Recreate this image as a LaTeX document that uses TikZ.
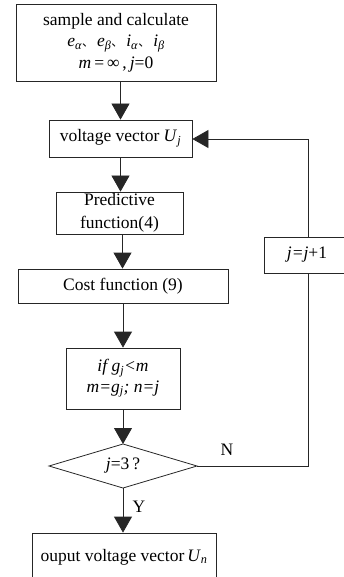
\documentclass[tikz,border=0pt]{standalone}
\usepackage{fontspec}
\setmainfont{Liberation Serif}
\newfontfamily\cjk{Noto Sans CJK SC}
\usetikzlibrary{arrows.meta}
\begin{document}
\begin{tikzpicture}[x=1pt,y=-1pt, font=\fontsize{17.5}{21.5}\selectfont,
 box/.style={draw=black!85, line width=0.8pt, inner sep=0pt, align=center},
 arr/.style={draw=black!85, line width=0.8pt, -{Triangle[length=16pt,width=18pt]}},
 ln/.style={draw=black!85, line width=0.8pt},
 lbl/.style={inner sep=0pt}]
\useasboundingbox (0,0) rectangle (344,577);
\clip (0,0) rectangle (344,577);
\node[box, minimum width=200, minimum height=77] (s) at (116,42.5)
  {sample and calculate\\
   \textit{e}\textsubscript{\textit{α}}{\cjk\fontsize{12}{12}\selectfont 、}\,\textit{e}\textsubscript{\textit{β}}{\cjk\fontsize{12}{12}\selectfont 、}\,\textit{i}\textsubscript{\textit{α}}{\cjk\fontsize{12}{12}\selectfont 、}\,\textit{i}\textsubscript{\textit{β}}\\
   \textit{m}\,=\,∞\,,\,\textit{j}=0};
\node[box, minimum width=143, minimum height=37] (v) at (120.5,138.5)
  {voltage vector \textit{U}\textsubscript{\textit{j}}};
\node[box, minimum width=127, minimum height=42] (p) at (119.5,213)
  {Predictive\\[2pt] function(4)};
\node[box, minimum width=210, minimum height=34] (c) at (123,286)
  {Cost function (9)};
\node[box, minimum width=114, minimum height=61] (f) at (123,378.5)
  {\textit{if g}\textsubscript{\textit{j}}\textit{<m}\\[-1pt]
   \textit{m=g}\textsubscript{\textit{j}}\textit{; n=j}};
\node[lbl] (d) at (123,466) {\textit{j}=3\,?};
\coordinate (dl) at (49,466);
\coordinate (dr) at (197,466);
\coordinate (dt) at (123,444);
\coordinate (db) at (123,488);
\draw[ln] (dl) -- (dt) -- (dr) -- (db) -- cycle;
\node[box, minimum width=86, minimum height=36] (jb) at (307,255)
  {\textit{j=j}+1};
\node[box, minimum width=184, minimum height=48] (o) at (124,557)
  {ouput voltage vector\,\textit{U}\textsubscript{\textit{n}}};
\coordinate (ccol) at (308,466);
\coordinate (ctop) at (308,139);
\draw[arr] (s.south -| v.north) -- (v.north);
\draw[arr] (v.south) -- (v.south |- p.north);
\draw[arr] (p.south) ++(3,0) coordinate (ps) -- (ps |- c.north);
\draw[arr] (c.south) -- (f.north);
\draw[arr] (f.south) -- (dt);
\draw[arr] (db) -- (db |- o.north);
\draw[ln] (dr) -- (ccol) -- (ccol |- jb.south);
\draw[arr] (ccol |- jb.north) -- (ctop) -- (ctop -| v.east);
\node[lbl] (nl) at (227,450) {N};
\node[lbl] (yl) at (139,507) {Y};
\end{tikzpicture}
\end{document}
